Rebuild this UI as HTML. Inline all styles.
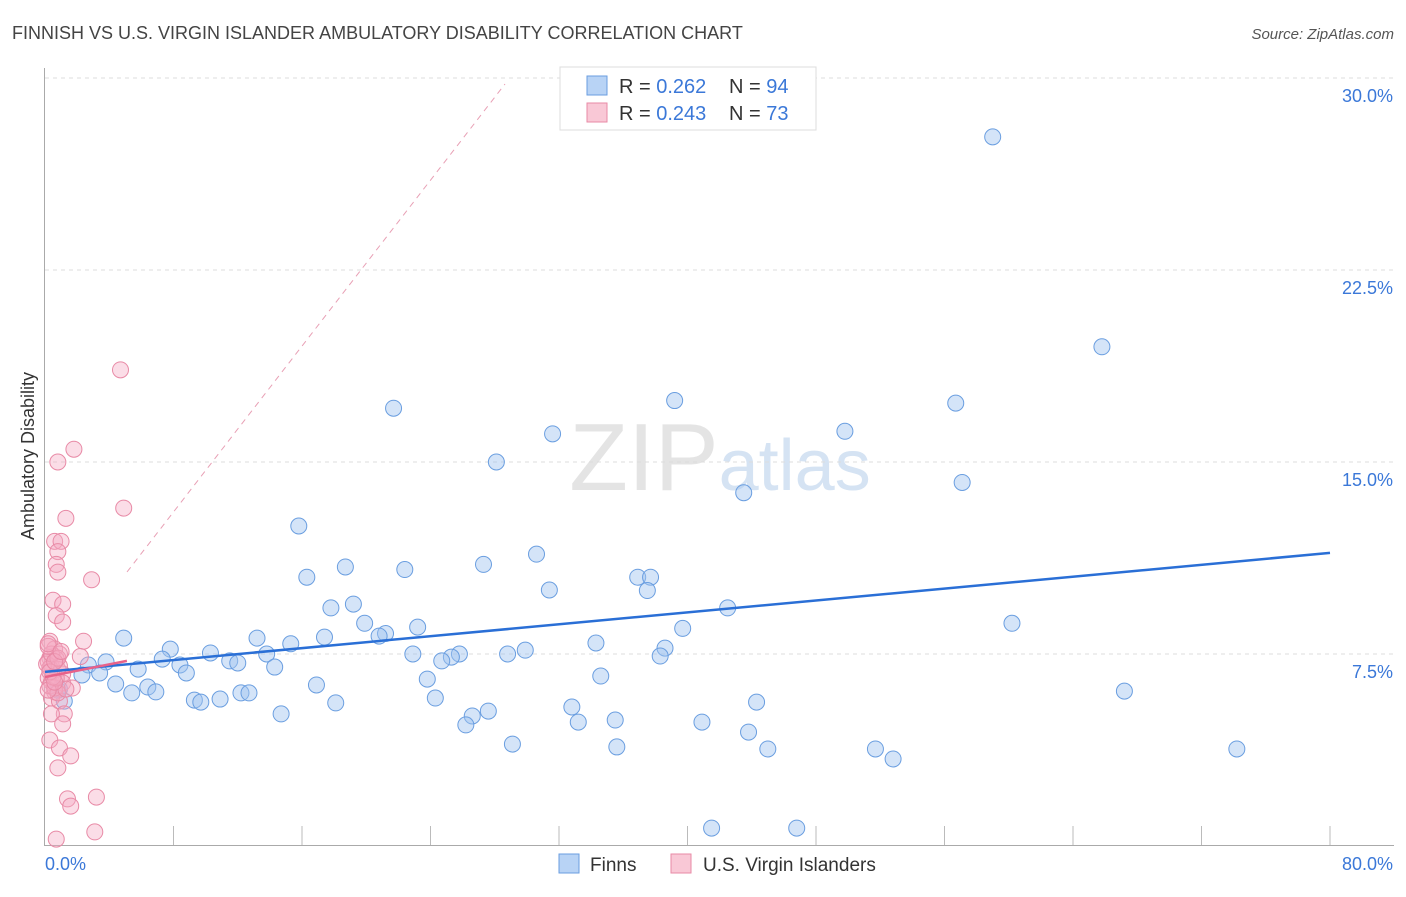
<!DOCTYPE html>
<html><head><meta charset="utf-8"><style>
body{margin:0;background:#fff;font-family:"Liberation Sans",sans-serif}
svg text{font-family:"Liberation Sans",sans-serif}
</style></head><body>
<svg id="chart" width="1406" height="892" xmlns="http://www.w3.org/2000/svg">
<text x="12" y="39" font-size="18" fill="#444">FINNISH VS U.S. VIRGIN ISLANDER AMBULATORY DISABILITY CORRELATION CHART</text>
<text x="1394" y="39" font-size="15" fill="#555" text-anchor="end" font-style="italic">Source: ZipAtlas.com</text>
<text x="720" y="490" font-size="96" fill="#e4e4e4" text-anchor="middle" font-family="Liberation Serif">ZIP<tspan fill="#d5e3f3" font-family="Liberation Sans" font-size="72">atlas</tspan></text>
<g id="grid"></g>
<g id="axes"></g>
<g id="pts"></g>
<g id="lines"></g>
<text transform="translate(34,456) rotate(-90)" font-size="18" fill="#333" text-anchor="middle">Ambulatory Disability</text>
<g>
<rect x="560" y="67" width="256" height="63" fill="#fff" stroke="#ddd"/>
<rect x="587" y="76" width="20" height="19" fill="#b8d3f5" stroke="#6a9ee0"/>
<text x="619" y="93" font-size="20" fill="#333">R = <tspan fill="#3b78d8">0.262</tspan></text>
<text x="729" y="93" font-size="20" fill="#333">N = <tspan fill="#3b78d8">94</tspan></text>
<rect x="587" y="103" width="20" height="19" fill="#f9c8d6" stroke="#e88aa6"/>
<text x="619" y="120" font-size="20" fill="#333">R = <tspan fill="#3b78d8">0.243</tspan></text>
<text x="729" y="120" font-size="20" fill="#333">N = <tspan fill="#3b78d8">73</tspan></text>
</g>
<g>
<rect x="559" y="854" width="20" height="19" fill="#b8d3f5" stroke="#6a9ee0"/>
<text x="590" y="871" font-size="19" fill="#333">Finns</text>
<rect x="671" y="854" width="20" height="19" fill="#f9c8d6" stroke="#e88aa6"/>
<text x="703" y="871" font-size="19" fill="#333">U.S. Virgin Islanders</text>
</g>
</svg>
<script>
const yTicks=[7.5,15,22.5,30];
const yTickLabels=["7.5%","15.0%","22.5%","30.0%"];
const xLabels=["0.0%","80.0%"];
const finnsX=[59.0,65.8,39.2,56.7,21.7,49.8,31.6,28.1,43.5,57.1,15.8,30.6,27.3,18.7,22.4,16.3,36.9,37.7,31.4,37.5,19.2,17.8,42.5,19.9,23.2,21.2,20.8,39.7,60.2,4.9,13.2,15.3,17.4,34.3,7.8,10.3,13.8,22.9,25.8,25.3,28.8,29.9,38.6,38.3,7.3,3.8,11.5,12.0,24.7,8.4,2.7,5.8,14.3,8.8,3.4,2.3,34.6,23.8,16.9,4.4,6.4,6.9,5.4,12.2,12.7,0.8,67.2,9.3,9.7,10.9,18.1,24.3,44.3,32.8,27.6,26.6,14.7,35.5,33.2,40.9,26.2,43.8,29.1,35.6,45.0,51.7,74.2,52.8,41.5,46.8,1.2,0.9];
const finnsY=[27.7,19.5,17.4,17.3,17.1,16.2,16.1,15.0,13.8,14.2,12.5,11.4,11.0,10.9,10.8,10.5,10.5,10.5,10.0,9.98,9.45,9.3,9.3,8.7,8.55,8.3,8.2,8.5,8.7,8.12,8.12,7.9,8.16,7.93,7.69,7.54,7.5,7.5,7.5,7.38,7.5,7.65,7.73,7.42,7.3,7.19,7.23,7.15,7.23,7.07,7.07,6.91,6.99,6.76,6.76,6.68,6.64,6.52,6.29,6.33,6.21,6.02,5.98,5.98,5.98,6.09,6.05,5.7,5.62,5.74,5.59,5.78,5.62,5.43,5.27,5.08,5.16,4.92,4.84,4.84,4.73,4.45,3.98,3.87,3.79,3.79,3.79,3.4,0.7,0.7,5.66,6.13];
const virgX=[4.7,1.8,0.8,1.3,4.9,0.6,1.0,0.8,0.7,0.8,2.9,0.5,1.1,0.7,1.1,2.4,0.3,0.6,0.9,0.3,0.2,0.7,2.2,0.4,0.8,1.1,0.2,0.4,1.1,1.7,0.6,0.4,0.9,1.2,0.4,1.1,0.3,0.9,1.6,0.8,1.4,1.6,3.2,0.7,3.1,0.3,0.6,0.8,1.3,0.2,0.3,0.7,0.9,0.1,0.4,0.8,0.2,0.5,0.3,0.6,0.6,0.2,1.0];
const virgY=[18.6,15.5,15.0,12.8,13.2,11.9,11.9,11.5,11.0,10.7,10.4,9.6,9.45,9.0,8.75,8.0,8.0,7.7,7.5,7.35,7.2,7.3,7.4,7.0,6.9,6.72,6.56,6.41,6.37,6.17,6.02,5.78,5.66,5.16,5.16,4.77,4.14,3.83,3.52,3.05,1.84,1.56,1.91,0.27,0.55,6.25,6.17,5.98,6.13,6.09,6.95,6.56,7.03,7.11,7.5,7.34,7.8,6.6,6.8,7.2,6.4,7.9,7.6];
const finnsFit=[6.8,11.45];
const virgFit=[6.6,16.5];
const X=v=>45+v*(1285/80), Y=v=>846-v*25.6;
const ns="http://www.w3.org/2000/svg";
function mk(p,t,a){const e=document.createElementNS(ns,t);for(const k in a)e.setAttribute(k,a[k]);document.getElementById(p).appendChild(e);return e;}
yTicks.forEach((t,i)=>{
 const l=mk('grid','line',{x1:45,x2:1394,y1:Y(t),y2:Y(t),stroke:'#ddd','stroke-dasharray':'4,4'});
 
 
 const tx=mk('grid','text',{x:1393,y:Y(t)+24,'font-size':18,fill:'#3b78d8','text-anchor':'end'});tx.textContent=yTickLabels[i];
 
 
});
let a=mk('axes','line',{x1:44.5,x2:44.5,y1:68,y2:845.5,stroke:'#aaa'});


a=mk('axes','line',{x1:44,x2:1394,y1:845.5,y2:845.5,stroke:'#aaa'});


for(let i=1;i<=10;i++){const t=mk('axes','line',{x1:X(i*8),x2:X(i*8),y1:826,y2:845,stroke:'#bbb'});
 
 }
let t1=mk('axes','text',{x:45,y:870,'font-size':18,fill:'#3b78d8'});t1.textContent=xLabels[0];


t1=mk('axes','text',{x:1393,y:870,'font-size':18,fill:'#3b78d8','text-anchor':'end'});t1.textContent=xLabels[1];


finnsX.forEach((x,i)=>{const c=mk('pts','circle',{cx:X(x),cy:Y(finnsY[i]),r:8,fill:'rgba(160,196,240,0.45)',stroke:'#6a9ee0','stroke-width':1});
 
 });
virgX.forEach((x,i)=>{const c=mk('pts','circle',{cx:X(x),cy:Y(virgY[i]),r:8,fill:'rgba(246,170,195,0.4)',stroke:'#e88aa6','stroke-width':1});
 
 });
let l=mk('lines','line',{x1:X(0),y1:Y(finnsFit[0]),x2:X(80),y2:Y(finnsFit[1]),stroke:'#2a6fd6','stroke-width':2.5});


const vs=(virgFit[1]-virgFit[0])/80;
l=mk('lines','line',{x1:X(0),y1:Y(virgFit[0]),x2:X(5.1),y2:Y(virgFit[0]+vs*5.1),stroke:'#e8628a','stroke-width':2.5});


const vs2=(Y(0)-Y(1))/25.6;
l=mk('lines','line',{x1:127,y1:572,x2:505,y2:84,stroke:'#e8a0b5','stroke-width':1,'stroke-dasharray':'6,5'});


</script>
</body></html>
